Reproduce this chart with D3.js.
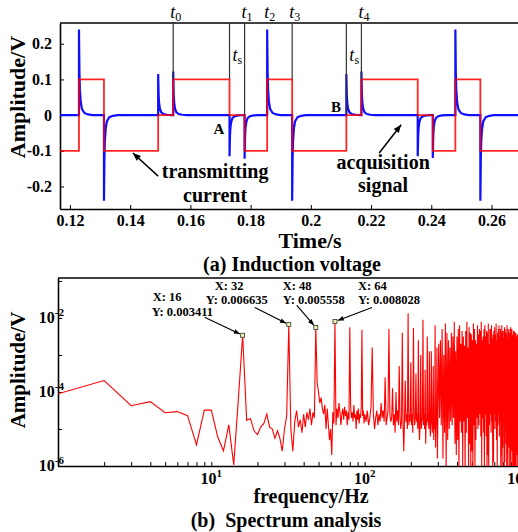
<!DOCTYPE html>
<html>
<head>
<meta charset="utf-8">
<script src="https://cdn.jsdelivr.net/npm/d3@7"></script>
<style>
body { margin: 0; background: #fff; }
text { font-family: "Liberation Serif", "Times New Roman", serif; font-weight: bold; fill: #000; }
</style>
</head>
<body>
<div class="content"></div>
<script>
// ---------- (a) induction voltage ----------
var timeTicks = [0.12, 0.14, 0.16, 0.18, 0.2, 0.22, 0.24, 0.26];
var voltTicks = [0.2, 0.1, 0, -0.1, -0.2];
// transmitting current, [start time, level]
var currentSteps = [[0.1167,-0.1],[0.1230,0.1],[0.1313,-0.1],[0.1493,0],[0.1543,0.1],[0.1730,0],
                    [0.1780,-0.1],[0.1855,0.1],[0.1938,-0.1],[0.2118,0],[0.2168,0.1],[0.2355,0],
                    [0.2405,-0.1],[0.2480,0.1],[0.2563,-0.1],[0.2688,-0.1]];
// acquisition signal spikes, [edge time, peak]
var signalSpikes = [[0.1230,0.24],[0.1313,-0.24],[0.1493,0.115],[0.1543,0.122],[0.1730,-0.115],
                    [0.1780,-0.122],[0.1855,0.24],[0.1938,-0.24],[0.2118,0.115],[0.2168,0.122],
                    [0.2355,-0.115],[0.2405,-0.12],[0.2480,0.24],[0.2563,-0.24]];
var spikeDecay = [[0,1],[0.00015,0.5],[0.0003,0.3],[0.0006,0.15],[0.001,0.07],[0.0018,0.025],[0.003,0.008],[0.0045,0]];
// marker lines, [time, level where the line stops]
var markLines = [[0.1543,0.1],[0.1730,0.1],[0.1780,0],[0.1938,0.1],[0.2118,0],[0.2168,0.1]];
var markLabels = [["0",0.1543],["1",0.1780],["2",0.1855],["3",0.1938],["4",0.2168]];
var tsLabels = [0.1730, 0.2118];

// ---------- (b) spectrum analysis ----------
var freqTicks = [2,3,4,5,6,7,8,9,10,20,30,40,50,60,70,80,90,100,200,300,400,500,600,700,800,900,1000];
var freqLabels = [[10,"1"],[100,"2"],[1000,"3"]];
var ampTicks = [1e-6,1e-5,1e-4,1e-3,1e-2,1e-1];
var ampLabels = [[1e-6,"-6"],[1e-4,"-4"],[1e-2,"-2"]];
// log10 amplitude, 1..99 Hz
var lowLog = [-4.05,-3.69,-4.37,-4.26,-4.56,-4.53,-4.64,-5.43,-4.49,-4.49,
              -5.21,-5.59,-4.89,-5.97,-4.2,-4.6,-4.76,-4.72,-5.05,-5.15,
              -4.95,-4.85,-4.6,-4.95,-5.0,-5.25,-5.05,-5.25,-5.6,-5.0,
              -4.65,-4.7,-5.0,-5.6,-4.8,-4.5,-4.95,-4.75,-5.1,-4.6,
              -4.95,-4.55,-4.75,-4.45,-4.9,-4.55,-4.7,-4.6,-3.75,-4.0,
              -4.3,-4.15,-4.45,-4.6,-4.35,-5.0,-4.45,-4.9,-5.3,-5.0,
              -5.7,-4.55,-4.85,-4.6,-4.9,-4.45,-4.7,-4.3,-4.55,-4.9,
              -4.6,-4.45,-4.75,-4.4,-4.65,-4.5,-4.9,-4.55,-4.75,-4.6,
              -4.4,-4.7,-4.55,-4.8,-4.35,-4.7,-4.6,-5.0,-4.5,-4.75,
              -4.45,-4.85,-4.6,-4.7,-4.4,-4.6,-4.65,-4.5,-4.85];
// log10 amplitude, 100..298 Hz every 2 Hz
var midLog = [-4.6,-4.8,-4.5,-4.9,-4.7,-4.4,-4.8,-4.6,-5.0,-4.7,
              -4.5,-4.9,-4.6,-4.8,-5.2,-4.7,-4.5,-4.8,-4.6,-4.9,
              -4.7,-4.5,-5.0,-4.6,-4.8,-4.7,-4.4,-4.9,-4.6,-5.1,
              -4.7,-4.8,-4.5,-4.9,-4.6,-4.7,-5.0,-4.8,-4.6,-4.9,
              -5.6,-4.7,-4.5,-4.8,-4.6,-5.0,-4.7,-4.9,-4.6,-4.8,
              -4.7,-4.9,-4.6,-5.1,-4.8,-4.6,-4.9,-4.7,-5.2,-4.8,
              -4.6,-5.0,-4.7,-4.9,-5.3,-4.8,-4.6,-5.0,-4.8,-4.7,
              -5.1,-4.9,-4.6,-5.0,-4.8,-5.4,-4.7,-4.9,-6.0,-4.8,
              -4.6,-5.0,-4.9,-4.7,-5.2,-4.8,-5.0,-4.7,-5.1,-4.9,
              -4.6,-5.3,-4.8,-5.0,-4.7,-5.5,-4.9,-4.8,-5.1,-5.8];
// log10 amplitude, 300..1000 Hz every 4 Hz
var highLog = [-4.8,-5.2,-4.7,-5.5,-4.9,-5.0,-5.8,-4.7,-5.1,-4.9,-6.1,-4.8,-5.3,-4.7,-5.0,-5.6,-4.8,-5.2,-4.9,-6.2,-4.7,-5.1,-5.4,-4.8,-5.7,
               -4.9,-5.3,-4.6,-6.2,-5.0,-4.8,-5.6,-5.1,-4.7,-6.0,-5.2,-4.8,-5.5,-6.3,-4.9,-5.1,-5.8,-4.7,-5.3,-6.1,-4.9,-5.4,-5.0,-6.2,-4.8,
               -5.6,-4.7,-6.3,-5.1,-4.9,-5.7,-6.0,-4.8,-5.3,-6.2,-4.7,-5.5,-5.0,-6.3,-4.9,-5.8,-4.6,-6.1,-5.2,-4.8,-6.0,-5.4,-4.7,-6.3,-5.1,
               -4.9,-6.2,-5.5,-4.6,-6.0,-5.2,-4.8,-6.3,-5.0,-5.7,-4.7,-6.1,-5.3,-4.9,-6.2,-4.6,-5.8,-5.1,-6.3,-4.8,-5.4,-6.0,-4.7,-5.9,-5.2,
               -4.6,-6.3,-5.0,-5.6,-4.8,-6.1,-5.3,-4.7,-6.2,-5.5,-4.9,-6.0,-4.6,-5.8,-5.2,-6.3,-4.8,-5.4,-6.1,-4.7,-5.7,-5.0,-6.2,-4.9,-5.5,
               -6.0,-4.7,-5.3,-6.3,-4.8,-5.9,-5.1,-4.6,-6.2,-5.4,-4.9,-6.1,-5.0,-5.7,-4.7,-6.3,-5.2,-4.8,-6.0,-5.5,-4.6,-6.2,-5.1,-5.8,-4.9,
               -6.1,-5.3,-4.7,-6.0,-5.6,-4.8,-6.3,-5.0,-5.4,-4.7,-6.1,-5.2,-4.9,-5.9,-6.2,-4.8,-5.5,-5.0,-6.0,-4.7,-5.7,-6.3,-4.9,-5.3,-6.1,
               -5.0];
// harmonic peaks, log10 amplitude at 80, 96, ... 992 Hz (16 Hz apart)
var harmonicLog = [-2.25,-2.32,-2.8,-4.3,-2.3,-4.0,-2.4,-1.87,-2.27,-2.6,
                   -2.05,-2.5,-2.9,-2.2,-2.7,-2.3,-2.15,-2.6,-2.4,-2.1,
                   -2.5,-2.2,-2.35,-2.75,-2.1,-2.25,-2.45,-2.15,-2.6,-2.2,
                   -2.3,-2.1,-2.5,-2.2,-2.35,-2.15,-2.3,-2.2,-2.45,-2.25,
                   -2.15,-2.4,-2.2,-2.3,-2.2,-2.35,-2.25,-2.4,-2.2,-2.3,
                   -2.45,-2.25,-2.3,-2.5,-2.35,-2.4,-2.6,-2.45];
// weaker peaks halfway between, log10 amplitude at 136, 152, ... 1000 Hz
var halfLog = [-3.6,-3.9,-3.3,-3.7,-3.2,-3.5,-3.0,-3.4,-2.9,-3.3,-2.8,
               -2.6,-3.0,-2.4,-2.8,-2.5,-2.9,-2.3,-2.7,-2.5,-2.35,
               -2.8,-2.4,-2.6,-2.3,-2.7,-2.45,-2.35,-2.6,-2.3,-2.5,
               -2.4,-2.7,-2.3,-2.55,-2.35,-2.45,-2.6,-2.3,-2.5,-2.4,
               -2.35,-2.55,-2.3,-2.45,-2.6,-2.4,-2.3,-2.5,-2.45,-2.35,
               -2.6,-2.4,-2.5,-2.55];
// data tips, [X, Y]
var tips = [[16,0.003411],[32,0.006635],[48,0.005558],[64,0.008028]];

var serif = '"Liberation Serif", "Times New Roman", serif';

var svg = d3.select(".content")
  .append("svg")
  .attr("width", 518)
  .attr("height", 532);

var defs = svg.append("defs");
defs.append("marker").attr("id", "bigArrow")
  .attr("viewBox", "0 0 10 10").attr("refX", 10).attr("refY", 5)
  .attr("markerUnits", "userSpaceOnUse").attr("markerWidth", 11).attr("markerHeight", 8)
  .attr("orient", "auto")
  .append("path").attr("d", "M0,1L10,5L0,9Z").attr("fill", "#000");
defs.append("marker").attr("id", "smallArrow")
  .attr("viewBox", "0 0 10 10").attr("refX", 10).attr("refY", 5)
  .attr("markerUnits", "userSpaceOnUse").attr("markerWidth", 9).attr("markerHeight", 6)
  .attr("orient", "auto")
  .append("path").attr("d", "M0,1L10,5L0,9Z").attr("fill", "#000");
defs.append("clipPath").attr("id", "clipTop")
  .append("rect").attr("x", 60).attr("y", 23).attr("width", 458).attr("height", 186);
defs.append("clipPath").attr("id", "clipBot")
  .append("rect").attr("x", 58).attr("y", 278).attr("width", 460).attr("height", 188);

function styleAxis(g, size) {
  g.select(".domain").attr("stroke", "#000").attr("stroke-width", 1.6);
  g.selectAll(".tick line").attr("stroke", "#000").attr("stroke-width", 1);
  g.selectAll("text")
    .attr("font-family", serif)
    .style("font-size", size + "px")
    .style("font-weight", "bold");
}

// ===== top panel =====
var xT = d3.scaleLinear().domain([0.1167, 0.2688]).range([60, 518]);
var yT = d3.scaleLinear().domain([-0.263, 0.258]).range([209, 23]);

var gx = svg.append("g").attr("transform", "translate(0,209)")
  .call(d3.axisBottom(xT).tickValues(timeTicks).tickSize(-4).tickSizeOuter(0).tickPadding(6)
    .tickFormat(function(d) { return String(d); }));
styleAxis(gx, 16);

var gy = svg.append("g").attr("transform", "translate(60,0)")
  .call(d3.axisLeft(yT).tickValues(voltTicks).tickSize(-4).tickSizeOuter(0).tickPadding(8)
    .tickFormat(function(d) { return String(d); }));
styleAxis(gy, 16);

svg.append("line")
  .attr("x1", 60).attr("x2", 518).attr("y1", 23).attr("y2", 23)
  .attr("stroke", "#000").attr("stroke-width", 1.6);

// blue signal points
var signal = [[xT.domain()[0], 0]];
signalSpikes.forEach(function(s) {
  signal.push([s[0], 0]);
  spikeDecay.forEach(function(p) {
    signal.push([s[0] + p[0], s[1] * p[1]]);
  });
});
signal.push([xT.domain()[1], 0]);

var plotT = svg.append("g").attr("clip-path", "url(#clipTop)");

plotT.append("path")
  .datum(signal)
  .attr("fill", "none")
  .attr("stroke", "#1010ff")
  .attr("stroke-width", 2.2)
  .attr("d", d3.line().x(function(d) { return xT(d[0]); }).y(function(d) { return yT(d[1]); }));

plotT.selectAll(".mark")
  .data(markLines)
  .enter()
  .append("line")
  .attr("x1", function(d) { return xT(d[0]); })
  .attr("x2", function(d) { return xT(d[0]); })
  .attr("y1", yT.range()[1])
  .attr("y2", function(d) { return yT(d[1]); })
  .attr("stroke", "#333")
  .attr("stroke-width", 1.2);

plotT.append("path")
  .datum(currentSteps)
  .attr("fill", "none")
  .attr("stroke", "rgba(255,0,0,0.85)")
  .attr("stroke-width", 1.8)
  .attr("d", d3.line().curve(d3.curveStepAfter)
    .x(function(d) { return xT(d[0]); }).y(function(d) { return yT(d[1]); }));

// t labels
var tl = svg.selectAll(".tlab")
  .data(markLabels)
  .enter()
  .append("text")
  .attr("x", function(d) { return xT(d[1]) - 3; })
  .attr("y", 18)
  .style("font-weight", "normal")
  .style("font-size", "18px");
tl.append("tspan").text("t").style("font-style", "italic");
tl.append("tspan").text(function(d) { return d[0]; }).attr("dy", 3).style("font-size", "12px");

var ts = svg.selectAll(".tslab")
  .data(tsLabels)
  .enter()
  .append("text")
  .attr("x", function(d) { return xT(d) + 3; })
  .attr("y", yT(0.152))
  .style("font-weight", "normal")
  .style("font-size", "18px");
ts.append("tspan").text("t").style("font-style", "italic");
ts.append("tspan").text("s").attr("dy", 3).style("font-size", "12px");

svg.append("text").attr("x", xT(0.1695)).attr("y", yT(-0.052))
  .attr("text-anchor", "middle").style("font-size", "15px").text("A");
svg.append("text").attr("x", xT(0.2084)).attr("y", yT(0.008))
  .attr("text-anchor", "middle").style("font-size", "15px").text("B");

// annotations
svg.append("line")
  .attr("x1", xT(0.1493)).attr("y1", yT(-0.171))
  .attr("x2", xT(0.1409)).attr("y2", yT(-0.106))
  .attr("stroke", "#000").attr("stroke-width", 1.5)
  .attr("marker-end", "url(#bigArrow)");
svg.append("text").attr("x", xT(0.1682)).attr("y", yT(-0.176))
  .attr("text-anchor", "middle").style("font-size", "20px").text("transmitting");
svg.append("text").attr("x", xT(0.1682)).attr("y", yT(-0.243))
  .attr("text-anchor", "middle").style("font-size", "20px").text("current");

svg.append("line")
  .attr("x1", xT(0.2227)).attr("y1", yT(-0.106))
  .attr("x2", xT(0.2300)).attr("y2", yT(-0.027))
  .attr("stroke", "#000").attr("stroke-width", 1.5)
  .attr("marker-end", "url(#bigArrow)");
svg.append("text").attr("x", xT(0.2240)).attr("y", yT(-0.151))
  .attr("text-anchor", "middle").style("font-size", "20px").text("acquisition");
svg.append("text").attr("x", xT(0.2240)).attr("y", yT(-0.215))
  .attr("text-anchor", "middle").style("font-size", "20px").text("signal");

svg.append("text")
  .attr("transform", "translate(25,97) rotate(-90)")
  .attr("text-anchor", "middle").style("font-size", "22px").text("Amplitude/V");
svg.append("text").attr("x", 310).attr("y", 248)
  .attr("text-anchor", "middle").style("font-size", "22px").text("Time/s");
svg.append("text").attr("x", 292).attr("y", 271)
  .attr("text-anchor", "middle").style("font-size", "20px").text("(a) Induction voltage");

// ===== bottom panel =====
var xS = d3.scaleLog().domain([1, 1000]).range([58, 518]);
var yS = d3.scaleLog().domain([1e-6, Math.pow(10, -0.92)]).range([466, 278]);

var bx = svg.append("g").attr("transform", "translate(0,466)")
  .call(d3.axisBottom(xS).tickValues(freqTicks).tickSize(-4).tickSizeOuter(0).tickFormat(""));
styleAxis(bx, 16);
var by = svg.append("g").attr("transform", "translate(58,0)")
  .call(d3.axisLeft(yS).tickValues(ampTicks).tickSize(-4).tickSizeOuter(0).tickFormat(""));
styleAxis(by, 16);
svg.append("line")
  .attr("x1", 58).attr("x2", 518).attr("y1", 278).attr("y2", 278)
  .attr("stroke", "#000").attr("stroke-width", 1.6);

var fl = svg.selectAll(".flab")
  .data(freqLabels)
  .enter()
  .append("text")
  .attr("x", function(d) { return xS(d[0]); })
  .attr("y", 484)
  .attr("text-anchor", "middle")
  .style("font-size", "16px");
fl.append("tspan").text("10");
fl.append("tspan").text(function(d) { return d[1]; }).attr("dy", -7).style("font-size", "11px");

var al = svg.selectAll(".alab")
  .data(ampLabels)
  .enter()
  .append("text")
  .attr("x", 64)
  .attr("y", function(d) { return yS(d[0]) + 5; })
  .attr("text-anchor", "end")
  .style("font-size", "16px");
al.append("tspan").text("10");
al.append("tspan").text(function(d) { return d[1]; }).attr("dy", -7).style("font-size", "11px");

// spectrum series
var specMap = {};
lowLog.forEach(function(v, i) { specMap[i + 1] = v; });
midLog.forEach(function(v, i) { specMap[100 + 2 * i] = v; });
highLog.forEach(function(v, i) { specMap[300 + 4 * i] = v; });
halfLog.forEach(function(v, i) { specMap[136 + 16 * i] = v; });
harmonicLog.forEach(function(v, i) { specMap[80 + 16 * i] = v; });
tips.forEach(function(t) { specMap[t[0]] = Math.log10(t[1]); });
var spectrum = Object.keys(specMap).map(function(k) { return [+k, Math.pow(10, specMap[k])]; })
  .sort(function(a, b) { return a[0] - b[0]; });

svg.append("g").attr("clip-path", "url(#clipBot)")
  .append("path")
  .datum(spectrum)
  .attr("fill", "none")
  .attr("stroke", "#ff0000")
  .attr("stroke-width", 1.1)
  .attr("d", d3.line().x(function(d) { return xS(d[0]); }).y(function(d) { return yS(d[1]); }));

// data tips: text offsets from the point, arrow tail offset
var tipLayout = [[-90,-34,-91,-19,-38,-18],[-74,-35,-83,-21,-34,-17],[-33,-37,-33,-23,-19,-22],[23,-31,23,-17,37,-14]];
tips.forEach(function(t, i) {
  var px = xS(t[0]), py = yS(t[1]), o = tipLayout[i];
  svg.append("text").attr("x", px + o[0]).attr("y", py + o[1]).style("font-size", "12.5px").text("X: " + t[0]);
  svg.append("text").attr("x", px + o[2]).attr("y", py + o[3]).style("font-size", "12.5px").text("Y: " + t[1]);
  var dx = o[4], dy = o[5], len = Math.sqrt(dx * dx + dy * dy);
  svg.append("line")
    .attr("x1", px + dx).attr("y1", py + dy)
    .attr("x2", px + dx * 3 / len).attr("y2", py + dy * 3 / len)
    .attr("stroke", "#000").attr("stroke-width", 1.2)
    .attr("marker-end", "url(#smallArrow)");
  svg.append("rect")
    .attr("x", px - 2).attr("y", py - 2).attr("width", 4).attr("height", 4)
    .attr("fill", "#f2f0b0").attr("stroke", "#333").attr("stroke-width", 0.8);
});

svg.append("text")
  .attr("transform", "translate(25,370) rotate(-90)")
  .attr("text-anchor", "middle").style("font-size", "21px").text("Amplitude/V");
svg.append("text").attr("x", 311).attr("y", 503)
  .attr("text-anchor", "middle").style("font-size", "20px").text("frequency/Hz");
svg.append("text").attr("x", 286).attr("y", 527)
  .attr("text-anchor", "middle").style("font-size", "20px").attr("xml:space", "preserve").text("(b)  Spectrum analysis");
</script>
</body>
</html>
